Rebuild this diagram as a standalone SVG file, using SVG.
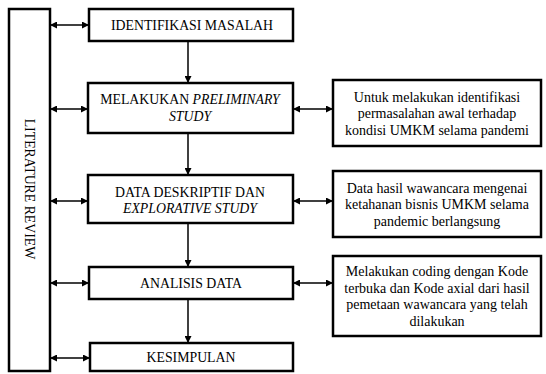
<svg xmlns="http://www.w3.org/2000/svg" width="546" height="374" viewBox="0 0 546 374">
<defs>
<marker id="ah" markerWidth="7" markerHeight="7" refX="6" refY="3.5" orient="auto-start-reverse" markerUnits="userSpaceOnUse">
<path d="M0,0 L7,3.5 L0,7 Z" fill="#000"/>
</marker>
<style>
.box{fill:#fff;stroke:#000;stroke-width:2.5}
.t{font-family:"Liberation Serif","Times New Roman",serif;font-size:13.8px;fill:#000;text-anchor:middle}
.s{font-family:"Liberation Serif","Times New Roman",serif;font-size:14px;fill:#000;text-anchor:middle}
.c{stroke:#000;stroke-width:1.5;fill:none}
</style>
</defs>
<rect width="546" height="374" fill="#fff"/>
<g id="literature">
<rect class="box" x="9" y="9" width="41" height="362"/>
<text class="t" transform="translate(25,189) rotate(90)">LITERATURE REVIEW</text>
</g>
<g id="n1">
<rect class="box" x="89" y="9" width="204" height="32"/>
<text class="t" x="192" y="30">IDENTIFIKASI MASALAH</text>
</g>
<g id="n2">
<rect class="box" x="88" y="83" width="205" height="50"/>
<text class="t" x="190" y="104">MELAKUKAN <tspan font-style="italic">PRELIMINARY</tspan></text>
<text class="t" x="190" y="121" font-style="italic">STUDY</text>
</g>
<g id="n3">
<rect class="box" x="88" y="175" width="205" height="48"/>
<text class="t" x="190" y="197">DATA DESKRIPTIF DAN</text>
<text class="t" x="190" y="213" font-style="italic">EXPLORATIVE STUDY</text>
</g>
<g id="n4">
<rect class="box" x="89" y="267" width="204" height="32"/>
<text class="t" x="191" y="288">ANALISIS DATA</text>
</g>
<g id="n5">
<rect class="box" x="90" y="343" width="203" height="28"/>
<text class="t" x="191" y="362">KESIMPULAN</text>
</g>
<g id="r1">
<rect class="box" x="333" y="80" width="208" height="66"/>
<text class="s" x="437" y="101.5">Untuk melakukan identifikasi</text>
<text class="s" x="437" y="118">permasalahan awal terhadap</text>
<text class="s" x="437" y="134.5">kondisi UMKM selama pandemi</text>
</g>
<g id="r2">
<rect class="box" x="333" y="171" width="208" height="66"/>
<text class="s" x="437" y="192.5">Data hasil wawancara mengenai</text>
<text class="s" x="437" y="209">ketahanan bisnis UMKM selama</text>
<text class="s" x="437" y="225.5">pandemic berlangsung</text>
</g>
<g id="r3">
<rect class="box" x="333" y="256" width="208" height="80"/>
<text class="s" x="437" y="276">Melakukan coding dengan Kode</text>
<text class="s" x="437" y="292.5">terbuka dan Kode axial dari hasil</text>
<text class="s" x="437" y="309">pemetaan wawancara yang telah</text>
<text class="s" x="437" y="325.5">dilakukan</text>
</g>
<g id="connectors">
<line class="c" x1="188" y1="42" x2="188" y2="82" marker-end="url(#ah)"/>
<line class="c" x1="188" y1="134" x2="188" y2="174" marker-end="url(#ah)"/>
<line class="c" x1="188" y1="224" x2="188" y2="266" marker-end="url(#ah)"/>
<line class="c" x1="188" y1="300" x2="188" y2="342" marker-end="url(#ah)"/>
<line class="c" x1="51" y1="25" x2="88" y2="25" marker-start="url(#ah)" marker-end="url(#ah)"/>
<line class="c" x1="51" y1="109" x2="87" y2="109" marker-start="url(#ah)" marker-end="url(#ah)"/>
<line class="c" x1="51" y1="201" x2="87" y2="201" marker-start="url(#ah)" marker-end="url(#ah)"/>
<line class="c" x1="51" y1="283" x2="88" y2="283" marker-start="url(#ah)" marker-end="url(#ah)"/>
<line class="c" x1="51" y1="358" x2="89" y2="358" marker-start="url(#ah)" marker-end="url(#ah)"/>
<line class="c" x1="294" y1="109" x2="332" y2="109" marker-start="url(#ah)" marker-end="url(#ah)"/>
<line class="c" x1="294" y1="201" x2="332" y2="201" marker-start="url(#ah)" marker-end="url(#ah)"/>
<line class="c" x1="294" y1="283" x2="332" y2="283" marker-start="url(#ah)" marker-end="url(#ah)"/>
</g>
</svg>
